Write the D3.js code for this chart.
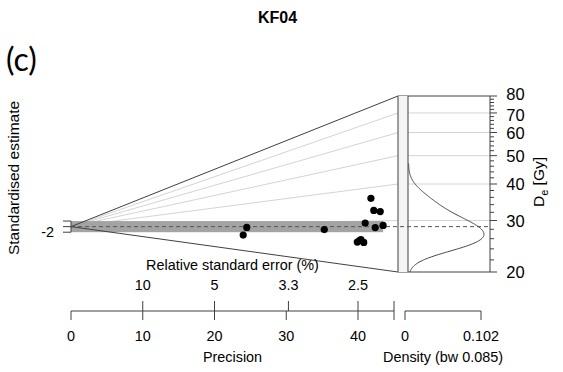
<!DOCTYPE html>
<html>
<head>
<meta charset="utf-8">
<script src="https://cdn.jsdelivr.net/npm/d3@7"></script>
<style>
  body { margin: 0; background: #fff; }
  svg { display: block; }
  text { font-family: "Liberation Sans", Arial, sans-serif; fill: #000; }
</style>
</head>
<body>
<svg id="chart" width="563" height="372"></svg>
<script>
// data
const title          = 'KF04';
const panelLabel     = '(c)';
const deValues       = [28.27, 25.19, 27.74, 36.45, 32.83, 32.4, 29.49, 28.36, 28.88, 24.88, 25.48, 24.88, 25.24];
const precisions     = [24.5, 24.0, 35.3, 41.8, 42.2, 43.1, 41.0, 42.4, 43.5, 39.9, 40.4, 40.8, 40.2];
const precisionTicks = [0, 10, 20, 30, 40];
const rseTicks       = [10, 5, 3.3, 2.5];
const deTicks        = [20, 30, 40, 50, 60, 70, 80];
const gridValues     = [30, 40, 50, 60, 70];
const zTicks         = [-2, 0, 2];
const zLabels        = [-2];
const densityTicks   = [0, 0.102];
const bandwidth      = 0.085;

const svg = d3.select('#chart');

// layout
const x0      = 71;    // precision 0
const xCone   = 398;   // right edge of the radial part
const xDens0  = 408;
const xAxisR  = 490;
const axisY   = 311;
const dark    = '#404040';

const xP   = d3.scaleLinear().domain([0, 40]).range([x0, 358]);
const yDe  = d3.scaleLog().domain([20, 80]).range([272, 96]);
const pMax = xP.invert(xCone);
const pxPerLn = (yDe(20) - yDe(80)) / Math.log(4);
const ys   = pxPerLn / pMax;   // px per standardised unit

// central value: weighted mean of log De
const w     = precisions.map(p => p * p);
const lnDe0 = d3.sum(deValues, (d, i) => Math.log(d) * w[i]) / d3.sum(w);
const yc    = yDe(Math.exp(lnDe0));

const pointX = i => xP(precisions[i]);
const pointY = i => yc - (Math.log(deValues[i]) - lnDe0) * precisions[i] * ys;

// radial grid lines
svg.append('g').selectAll('line').data(gridValues).join('line')
  .attr('x1', x0).attr('y1', yc).attr('x2', xCone).attr('y2', d => yDe(d))
  .attr('stroke', '#d4d4d4').attr('stroke-width', 1);
svg.append('g').selectAll('line').data(gridValues).join('line')
  .attr('x1', xDens0).attr('x2', xAxisR).attr('y1', d => yDe(d)).attr('y2', d => yDe(d))
  .attr('stroke', '#d4d4d4').attr('stroke-width', 1);

// +-2 band
const pDataMax = d3.max(precisions);
svg.append('rect')
  .attr('x', x0).attr('y', yc - 2 * ys)
  .attr('width', xP(pDataMax) - x0).attr('height', 4 * ys)
  .attr('fill', '#a3a3a3');

// cone outline
svg.append('path')
  .attr('d', d3.line()([[xAxisR, yDe(80)], [xCone, yDe(80)], [x0, yc], [xCone, yDe(20)], [xAxisR, yDe(20)]]))
  .attr('fill', 'none').attr('stroke', dark).attr('stroke-width', 1);
svg.append('rect')
  .attr('x', xCone).attr('y', yDe(80)).attr('width', xDens0 - xCone).attr('height', yDe(20) - yDe(80))
  .attr('fill', '#f4f4f4');
[xCone, xDens0, xAxisR].forEach(x => {
  svg.append('line').attr('x1', x).attr('x2', x).attr('y1', yDe(80)).attr('y2', yDe(20))
    .attr('stroke', dark).attr('stroke-width', 1);
});

// central dashed line
svg.append('line')
  .attr('x1', x0).attr('x2', xAxisR).attr('y1', yc).attr('y2', yc)
  .attr('stroke', '#555').attr('stroke-width', 1).attr('stroke-dasharray', '4,3');

// density curve (kde on log De)
const lnVals = deValues.map(Math.log);
const lo = Math.max(d3.min(lnVals) - 3 * bandwidth, Math.log(20));
const hi = Math.min(d3.max(lnVals) + 3 * bandwidth, Math.log(80));
const kde = l => d3.mean(lnVals, v => Math.exp(-0.5 * ((l - v) / bandwidth) ** 2)) / (bandwidth * Math.sqrt(2 * Math.PI));
const dens = d3.range(0, 201).map(i => {
  const l = lo + (hi - lo) * i / 200;
  return {de: Math.exp(l), d: kde(l)};
});
const xD = d3.scaleLinear().domain([0, d3.max(dens, d => d.d)]).range([xDens0 + 0.5, 484]);
svg.append('path')
  .attr('d', d3.line().x(d => xD(d.d)).y(d => yDe(d.de))(dens))
  .attr('fill', 'none').attr('stroke', '#444').attr('stroke-width', 1);

// points
svg.append('g').selectAll('circle').data(deValues).join('circle')
  .attr('cx', (d, i) => pointX(i)).attr('cy', (d, i) => pointY(i))
  .attr('r', 3.6).attr('fill', '#000');

// right De axis
const deAxis = svg.append('g');
const minor = d3.range(22, 80, 2).filter(v => v % 10 !== 0);
deAxis.selectAll('line.minor').data(minor).join('line').attr('class', 'minor')
  .attr('x1', xAxisR).attr('x2', xAxisR + 4).attr('y1', d => yDe(d)).attr('y2', d => yDe(d))
  .attr('stroke', dark);
deAxis.selectAll('line.major').data(deTicks).join('line').attr('class', 'major')
  .attr('x1', xAxisR).attr('x2', xAxisR + 7).attr('y1', d => yDe(d)).attr('y2', d => yDe(d))
  .attr('stroke', dark);
// 80 and 70 sit close together, nudge them apart a little
const labelNudge = d => d === 80 ? -1.8 : d === 70 ? 1.8 : 0;
deAxis.selectAll('text').data(deTicks).join('text')
  .attr('x', 515.5).attr('y', d => yDe(d) + 6 + labelNudge(d))
  .attr('text-anchor', 'middle').attr('font-size', 16.5).text(d => d);

const deLabel = svg.append('text')
  .attr('transform', 'translate(544,182) rotate(-90)')
  .attr('text-anchor', 'middle').attr('font-size', 15.5);
deLabel.append('tspan').text('D');
deLabel.append('tspan').attr('font-size', 11).attr('dy', 4).text('e');
deLabel.append('tspan').attr('dy', -4).text(' [Gy]');

// standardised estimate axis
svg.append('line').attr('x1', x0).attr('x2', x0).attr('y1', yc - 2 * ys).attr('y2', yc + 2 * ys)
  .attr('stroke', dark);
svg.append('g').selectAll('line').data(zTicks).join('line')
  .attr('x1', x0 - 8).attr('x2', x0).attr('y1', d => yc - d * ys).attr('y2', d => yc - d * ys)
  .attr('stroke', dark);
svg.append('g').selectAll('text').data(zLabels).join('text')
  .attr('x', 54).attr('y', d => yc - d * ys + 5)
  .attr('text-anchor', 'end').attr('font-size', 14.4).text(d => d);
svg.append('text')
  .attr('transform', 'translate(19,178) rotate(-90)')
  .attr('text-anchor', 'middle').attr('font-size', 15.5).text('Standardised estimate');

// precision / relative standard error axis
const axisEnd = xCone - 4;
svg.append('line').attr('x1', x0).attr('x2', axisEnd).attr('y1', axisY).attr('y2', axisY).attr('stroke', dark);
svg.append('g').selectAll('line').data(precisionTicks).join('line')
  .attr('x1', d => xP(d)).attr('x2', d => xP(d)).attr('y1', axisY).attr('y2', axisY + 9).attr('stroke', dark);
svg.append('g').selectAll('line').data(rseTicks).join('line')
  .attr('x1', d => xP(100 / d)).attr('x2', d => xP(100 / d)).attr('y1', axisY - 10).attr('y2', axisY).attr('stroke', dark);
svg.append('line').attr('x1', axisEnd).attr('x2', axisEnd).attr('y1', axisY - 10).attr('y2', axisY + 9).attr('stroke', dark);
svg.append('g').selectAll('text').data(precisionTicks).join('text')
  .attr('x', d => xP(d)).attr('y', axisY + 30)
  .attr('text-anchor', 'middle').attr('font-size', 14.4).text(d => d);
svg.append('g').selectAll('text').data(rseTicks).join('text')
  .attr('x', d => xP(100 / d)).attr('y', axisY - 21)
  .attr('text-anchor', 'middle').attr('font-size', 14.4).text(d => d);
const midP = (x0 + axisEnd) / 2;
svg.append('text').attr('x', midP).attr('y', 270).attr('text-anchor', 'middle').attr('font-size', 14.4)
  .text('Relative standard error (%)');
svg.append('text').attr('x', midP).attr('y', 362).attr('text-anchor', 'middle').attr('font-size', 14.4)
  .text('Precision');

// density axis
const xDA = d3.scaleLinear().domain(densityTicks).range([405, 481]);
svg.append('line').attr('x1', xDA(0)).attr('x2', xDA(0.102)).attr('y1', axisY).attr('y2', axisY).attr('stroke', dark);
svg.append('g').selectAll('line').data(densityTicks).join('line')
  .attr('x1', d => xDA(d)).attr('x2', d => xDA(d)).attr('y1', axisY).attr('y2', axisY + 9).attr('stroke', dark);
svg.append('g').selectAll('text').data(densityTicks).join('text')
  .attr('x', d => xDA(d)).attr('y', axisY + 30)
  .attr('text-anchor', 'middle').attr('font-size', 14.4).text(d => d);
svg.append('text').attr('x', 443).attr('y', 362).attr('text-anchor', 'middle').attr('font-size', 14.4)
  .text('Density (bw ' + bandwidth + ')');

// titles
svg.append('text').attr('x', 277.5).attr('y', 23).attr('text-anchor', 'middle')
  .attr('font-size', 16).attr('font-weight', 'bold').text(title);
svg.append('text').attr('x', 6).attr('y', 71).attr('font-size', 32)
  .style('font-family', 'Lato, "Open Sans", sans-serif').text(panelLabel);
</script>
</body>
</html>
